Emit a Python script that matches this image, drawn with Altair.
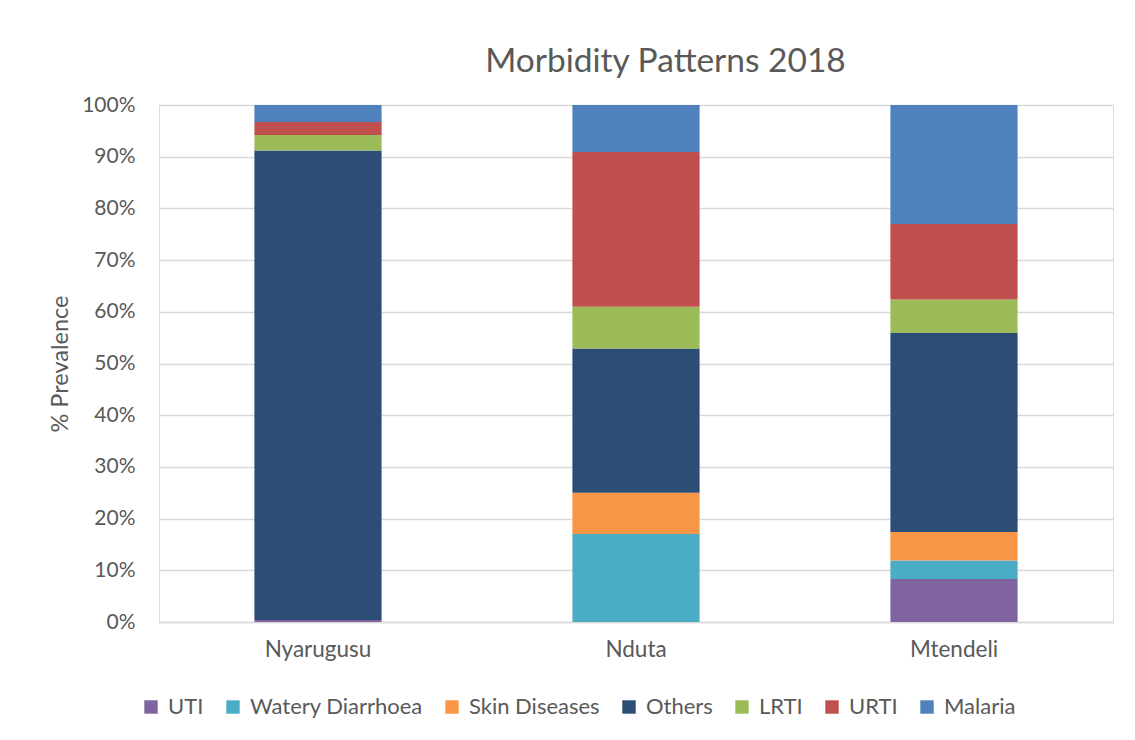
import altair as alt
import pandas as pd

camps = ["Nyarugusu", "Nduta", "Mtendeli"]
diseases = ["UTI", "Watery Diarrhoea", "Skin Diseases", "Others", "LRTI", "URTI", "Malaria"]
colors = ["#8064A2", "#4BACC6", "#F79646", "#2C4D75", "#9BBB59", "#C0504D", "#4F81BD"]

# % prevalence per camp, in the order of `diseases`
nyarugusu = [0.4, 0.0, 0.0, 90.8, 3.0, 2.5, 3.3]
nduta = [0.0, 17.0, 8.0, 27.9, 8.1, 29.9, 9.1]
mtendeli = [8.3, 3.6, 5.5, 38.5, 6.5, 14.6, 23.0]

y_ticks = [0, 10, 20, 30, 40, 50, 60, 70, 80, 90, 100]

rows = []
for camp, vals in zip(camps, [nyarugusu, nduta, mtendeli]):
    for i, (d, v) in enumerate(zip(diseases, vals)):
        if v > 0:
            rows.append({"camp": camp, "disease": d, "value": v, "order": i})
df = pd.DataFrame(rows)

FONT = "Lato"
GRAY = "#595959"

chart = (
    alt.Chart(df)
    .mark_bar()
    .encode(
        x=alt.X(
            "camp:N",
            sort=camps,
            scale=alt.Scale(paddingInner=0.6, paddingOuter=0.3),
            axis=alt.Axis(
                title=None,
                labelAngle=0,
                ticks=False,
                labelPadding=16,
                labelFontSize=22.5,
                labelColor=GRAY,
                labelFont=FONT,
                domainColor="#D9D9D9",
                domainWidth=1.5,
                grid=False,
            ),
        ),
        y=alt.Y(
            "value:Q",
            stack="zero",
            scale=alt.Scale(domain=[0, 100], nice=False),
            axis=alt.Axis(
                values=y_ticks,
                labelExpr="datum.value + '%'",
                ticks=False,
                domain=False,
                labelPadding=24,
                labelFontSize=21,
                labelColor=GRAY,
                labelFont=FONT,
                gridColor="#D9D9D9",
                gridWidth=1.5,
                title="% Prevalence",
                titleFont=FONT,
                titleFontSize=23.5,
                titleFontWeight="normal",
                titleColor=GRAY,
                titleX=-99,
                titleY=258.5,
                titleAngle=-90,
                titleAlign="center",
                titleBaseline="middle",
            ),
        ),
        color=alt.Color(
            "disease:N",
            scale=alt.Scale(domain=diseases, range=colors),
            legend=alt.Legend(
                title=None,
                orient="none",
                direction="horizontal",
                columns=7,
                legendX=-19,
                legendY=591,
                symbolType="square",
                symbolSize=180,
                symbolStrokeWidth=0,
                symbolOpacity=1,
                labelFont=FONT,
                labelFontSize=22,
                labelColor=GRAY,
                labelOffset=6,
                labelLimit=0,
                columnPadding=18,
            ),
        ),
        order=alt.Order("order:Q", sort="ascending"),
    )
    .properties(
        width=954,
        height=517,
        autosize=alt.AutoSizeParams(type="none"),
        padding={"left": 151, "top": 97, "right": 14, "bottom": 110},
        title=alt.TitleParams(
            "Morbidity Patterns 2018",
            font=FONT,
            fontSize=33.5,
            fontWeight="normal",
            color=GRAY,
            anchor="middle",
            frame="group",
            dx=29.5,
            offset=15,
        ),
    )
    .configure_view(stroke=None)
    .configure(background="white")
)

chart.save("out.html", embed_options={"renderer": "svg", "actions": False})
